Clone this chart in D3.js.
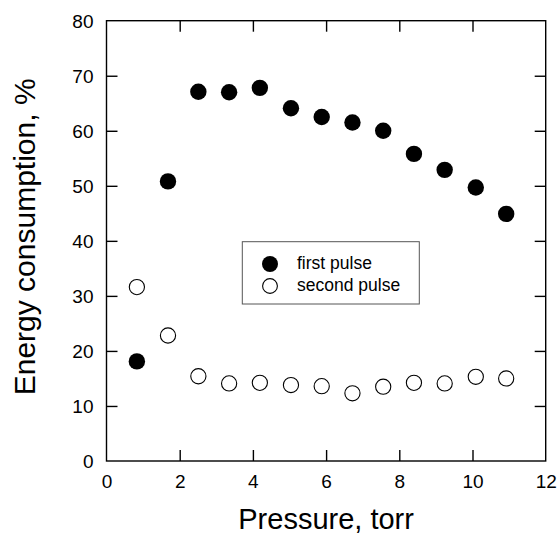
<!DOCTYPE html>
<html>
<head>
<meta charset="utf-8">
<script src="https://cdn.jsdelivr.net/npm/d3@7"></script>
<style>
  html, body { margin: 0; padding: 0; background: #fff; overflow: hidden; }
  svg { display: block; }
  text { font-family: "Liberation Sans", Arial, sans-serif; fill: #000; }
</style>
</head>
<body>
<svg id="chart" width="558" height="536"></svg>
<script>
// ---- Data ----
const pressure = [0.83, 1.68, 2.51, 3.35, 4.19, 5.04, 5.88, 6.72, 7.56, 8.40, 9.24, 10.09, 10.92];
const firstPulse = [18.1, 50.8, 67.1, 67.0, 67.8, 64.1, 62.5, 61.5, 60.0, 55.8, 52.9, 49.7, 44.9];
const secondPulse = [31.6, 22.8, 15.4, 14.1, 14.2, 13.8, 13.6, 12.3, 13.5, 14.2, 14.1, 15.3, 15.0];
const xTicks = [0, 2, 4, 6, 8, 10, 12];
const yTicks = [0, 10, 20, 30, 40, 50, 60, 70, 80];
const seriesNames = ["first pulse", "second pulse"];
const xTitle = "Pressure, torr";
const yTitle = "Energy consumption, %";

// ---- Layout ----
const L = 106.5, R = 545.7, T = 20.7, B = 461;
const svg = d3.select("#chart");
const x = d3.scaleLinear().domain([0, 12]).range([L, R]);
const y = d3.scaleLinear().domain([0, 80]).range([B, T]);
const tickLen = 11;

const g = svg.append("g");

// frame
g.append("rect").attr("x", L).attr("y", T).attr("width", R - L).attr("height", B - T)
  .attr("fill", "none").attr("stroke", "#000").attr("stroke-width", 1.4);

// axes
const bottomAxis = d3.axisBottom(x).tickValues(xTicks).tickSizeInner(-tickLen).tickSizeOuter(0).tickPadding(tickLen + 3).tickFormat(d3.format("d"));
const topAxis = d3.axisTop(x).tickValues(xTicks.slice(1, -1)).tickSizeInner(-tickLen).tickSizeOuter(0).tickFormat("");
const leftAxis = d3.axisLeft(y).tickValues(yTicks).tickSizeInner(-tickLen).tickSizeOuter(0).tickPadding(tickLen + 2).tickFormat(d3.format("d"));
const rightAxis = d3.axisRight(y).tickValues(yTicks.slice(1, -1)).tickSizeInner(-tickLen).tickSizeOuter(0).tickFormat("");

function styleAxis(sel) {
  sel.select(".domain").remove();
  sel.selectAll(".tick line").attr("stroke", "#000").attr("stroke-width", 1.4);
  sel.selectAll(".tick text").style("font-family", "'Liberation Sans', Arial, sans-serif")
    .style("font-size", "19px").attr("fill", "#000");
}

const gb = g.append("g").attr("transform", `translate(0,${B})`).call(bottomAxis).call(styleAxis);
gb.selectAll(".tick line").filter(d => d === 0 || d === 12).remove();
const gt = g.append("g").attr("transform", `translate(0,${T})`).call(topAxis).call(styleAxis);
const gl = g.append("g").attr("transform", `translate(${L},0)`).call(leftAxis).call(styleAxis);
gl.selectAll(".tick line").filter(d => d === 0 || d === 80).remove();
gl.selectAll(".tick text").attr("dy", "0.36em");
const gr = g.append("g").attr("transform", `translate(${R},0)`).call(rightAxis).call(styleAxis);

// titles
svg.append("text").attr("x", (L + R) / 2).attr("y", 529).attr("text-anchor", "middle")
  .style("font-size", "29px").text(xTitle);
svg.append("text").attr("transform", `translate(35,${(T + B) / 2 - 4}) rotate(-90)`)
  .attr("text-anchor", "middle").style("font-size", "30px").text(yTitle);

// data points
const pts1 = pressure.map((p, i) => ({ x: p, y: firstPulse[i] }));
const pts2 = pressure.map((p, i) => ({ x: p, y: secondPulse[i] }));

g.selectAll("circle.s2").data(pts2).join("circle").attr("class", "s2")
  .attr("cx", d => x(d.x)).attr("cy", d => y(d.y)).attr("r", 7.6)
  .attr("fill", "#fff").attr("stroke", "#000").attr("stroke-width", 1.1);
g.selectAll("circle.s1").data(pts1).join("circle").attr("class", "s1")
  .attr("cx", d => x(d.x)).attr("cy", d => y(d.y)).attr("r", 8.2)
  .attr("fill", "#000");

// legend
const lg = svg.append("g");
lg.append("rect").attr("x", 242.3).attr("y", 241.7).attr("width", 177).attr("height", 62.3)
  .attr("fill", "#fff").attr("stroke", "#555").attr("stroke-width", 1);
lg.append("circle").attr("cx", 270).attr("cy", 264).attr("r", 8).attr("fill", "#000");
lg.append("circle").attr("cx", 270).attr("cy", 286).attr("r", 7.4).attr("fill", "#fff")
  .attr("stroke", "#000").attr("stroke-width", 1.1);
lg.append("text").attr("x", 297).attr("y", 269).style("font-size", "17.5px").text(seriesNames[0]);
lg.append("text").attr("x", 297).attr("y", 291).style("font-size", "17.5px").text(seriesNames[1]);
</script>
</body>
</html>
